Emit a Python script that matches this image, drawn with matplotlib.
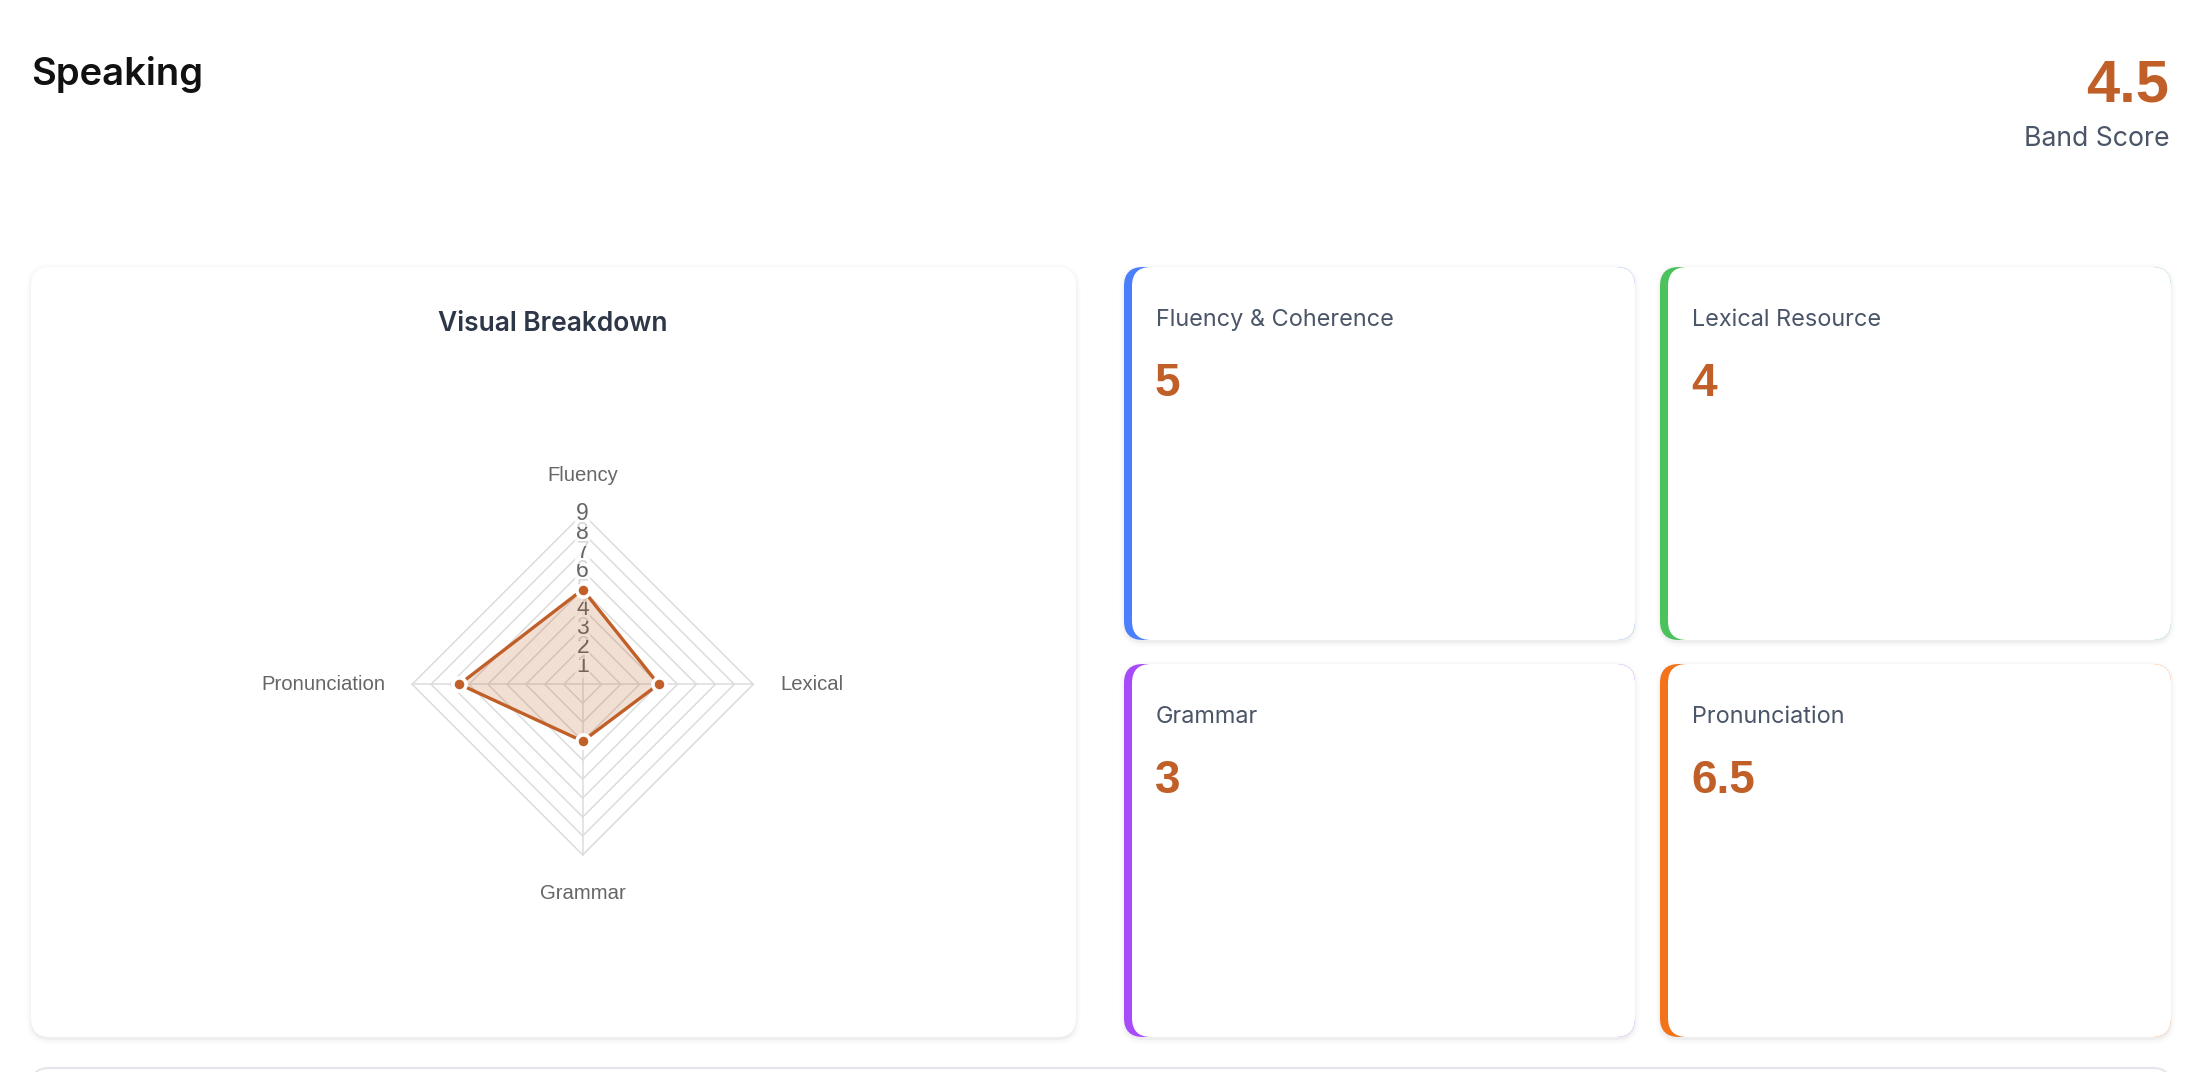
import numpy as np
import matplotlib
matplotlib.use("Agg")
import matplotlib.pyplot as plt
from matplotlib.patches import FancyBboxPatch

# ---------------- data ----------------
page_title = "Speaking"
band_score = 4.5
band_label = "Band Score"
panel_title = "Visual Breakdown"
categories = ["Fluency", "Lexical", "Grammar", "Pronunciation"]
scores = [5, 4, 3, 6.5]
radar_ticks = [1, 2, 3, 4, 5, 6, 7, 8, 9]
radar_max = 9
card_titles = ["Fluency & Coherence", "Lexical Resource", "Grammar", "Pronunciation"]
card_scores = [5, 4, 3, 6.5]
card_accents = ["#4A7FFB", "#4CC25C", "#A64BFB", "#F2731A"]

W, H = 2206, 1072
SCORE_COLOR = "#C05F28"
PAGE_FONT = ["Inter", "DejaVu Sans"]
NUM_FONT = ["Liberation Sans", "DejaVu Sans"]
CHART_FONT = ["Liberation Sans", "DejaVu Sans"]

fig = plt.figure(figsize=(W / 100, H / 100), dpi=100)
fig.patch.set_facecolor("white")

# pixel-space background axes
bg = fig.add_axes([0, 0, 1, 1])
bg.set_xlim(0, W)
bg.set_ylim(H, 0)
bg.axis("off")


def card(x0, y0, x1, y1, accent=None, r=19, z=1):
    w, h = x1 - x0, y1 - y0
    # soft shadow
    for i, a in enumerate([0.035, 0.02, 0.012]):
        d = 1.0 + i * 2
        bg.add_patch(FancyBboxPatch((x0 - d + 0.5, y0 - d + 2), w + 2 * d - 1, h + 2 * d,
                                    boxstyle=f"round,pad=0,rounding_size={r + d}",
                                    fc="#000000", ec="none", alpha=a, zorder=z))
    if accent is not None:
        bg.add_patch(FancyBboxPatch((x0, y0), w, h, boxstyle=f"round,pad=0,rounding_size={r}",
                                    fc=accent, ec="none", zorder=z + 1))
        bg.add_patch(FancyBboxPatch((x0 + 8, y0), w - 8, h, boxstyle=f"round,pad=0,rounding_size={r}",
                                    fc="white", ec="none", zorder=z + 2))
    else:
        bg.add_patch(FancyBboxPatch((x0, y0), w, h, boxstyle=f"round,pad=0,rounding_size={r}",
                                    fc="white", ec="none", zorder=z + 1))


# header
bg.text(31, 85, page_title, fontsize=27.5, fontweight="semibold", color="#111111",
        family=PAGE_FONT, ha="left", va="baseline")
bg.text(2169, 101, f"{band_score:g}", fontsize=43, fontweight="bold", color=SCORE_COLOR,
        family=NUM_FONT, ha="right", va="baseline")
bg.text(2169, 146, band_label, fontsize=19.2, color="#4A5568",
        family=PAGE_FONT, ha="right", va="baseline")

# left panel
card(31, 267, 1076, 1037)
bg.text(553, 324, panel_title, fontsize=19, fontweight="semibold", color="#2D3748",
        family=PAGE_FONT, ha="center", va="center", zorder=5)

# score cards
card_boxes = [(1124, 267, 1635, 640), (1660, 267, 2171, 640),
              (1124, 664, 1635, 1037), (1660, 664, 2171, 1037)]
for (x0, y0, x1, y1), t, v, c in zip(card_boxes, card_titles, card_scores, card_accents):
    card(x0, y0, x1, y1, accent=c)
    bg.text(x0 + 32, y0 + 53, t, fontsize=16.9, color="#4A5568", family=PAGE_FONT,
            ha="left", va="center", zorder=5)
    bg.text(x0 + 31, y0 + 129, f"{v:g}", fontsize=33, fontweight="bold", color=SCORE_COLOR,
            family=NUM_FONT, ha="left", va="baseline", zorder=5)

# bottom partially visible card
bg.add_patch(FancyBboxPatch((31, 1068), 2140, 200, boxstyle="round,pad=0,rounding_size=18",
                            fc="white", ec="#E3E6EA", lw=1.5, zorder=2))

# ---------------- radar ----------------
cx, cy, R = 582.7, 684.3, 170.6
rax = fig.add_axes([(cx - R) / W, (H - cy - R) / H, 2 * R / W, 2 * R / H])
rax.set_xlim(-radar_max, radar_max)
rax.set_ylim(-radar_max, radar_max)
rax.axis("off")
rax.set_zorder(10)
rax.patch.set_visible(False)

n = len(categories)
ang = np.pi / 2 - 2 * np.pi * np.arange(n) / n
grid_c = "#DCDCDC"
for r in radar_ticks:
    xs = np.append(r * np.cos(ang), r * np.cos(ang[0]))
    ys = np.append(r * np.sin(ang), r * np.sin(ang[0]))
    rax.plot(xs, ys, color=grid_c, lw=1.1, zorder=1, clip_on=False, solid_joinstyle="miter")
for a in ang:
    rax.plot([0, radar_max * np.cos(a)], [0, radar_max * np.sin(a)], color=grid_c, lw=1.1,
             zorder=1, clip_on=False)

for r in radar_ticks:
    rax.text(0, r, str(r), fontsize=16.5, color="#666666", family=CHART_FONT, ha="center",
             va="center", zorder=2, clip_on=False,
             bbox=dict(boxstyle="square,pad=0.06", fc="white", ec="none", alpha=0.75))

# category labels
px = radar_max / R
for a, lab in zip(ang, categories):
    c, s = np.cos(a), np.sin(a)
    if abs(c) < 0.01:
        off = 209 * px
        rax.text(0, np.sign(s) * off, lab, fontsize=14.6, color="#666666", family=CHART_FONT,
                 ha="center", va="center", clip_on=False)
    else:
        off = 197.3 * px
        rax.text(np.sign(c) * off, 0, lab, fontsize=14.6, color="#666666", family=CHART_FONT,
                 ha="left" if c > 0 else "right", va="center", clip_on=False)

vals = np.array(scores, dtype=float)
xs = vals * np.cos(ang)
ys = vals * np.sin(ang)
rax.fill(xs, ys, color=SCORE_COLOR, alpha=0.2, lw=0, zorder=3, clip_on=False)
rax.plot(np.append(xs, xs[0]), np.append(ys, ys[0]), color=SCORE_COLOR, lw=2.4, zorder=4,
         clip_on=False, solid_joinstyle="miter")
rax.plot(xs, ys, "o", ms=9.5, mfc=SCORE_COLOR, mec="white", mew=2.6, zorder=5, clip_on=False)

fig.savefig("out.png", dpi=100, facecolor="white")
